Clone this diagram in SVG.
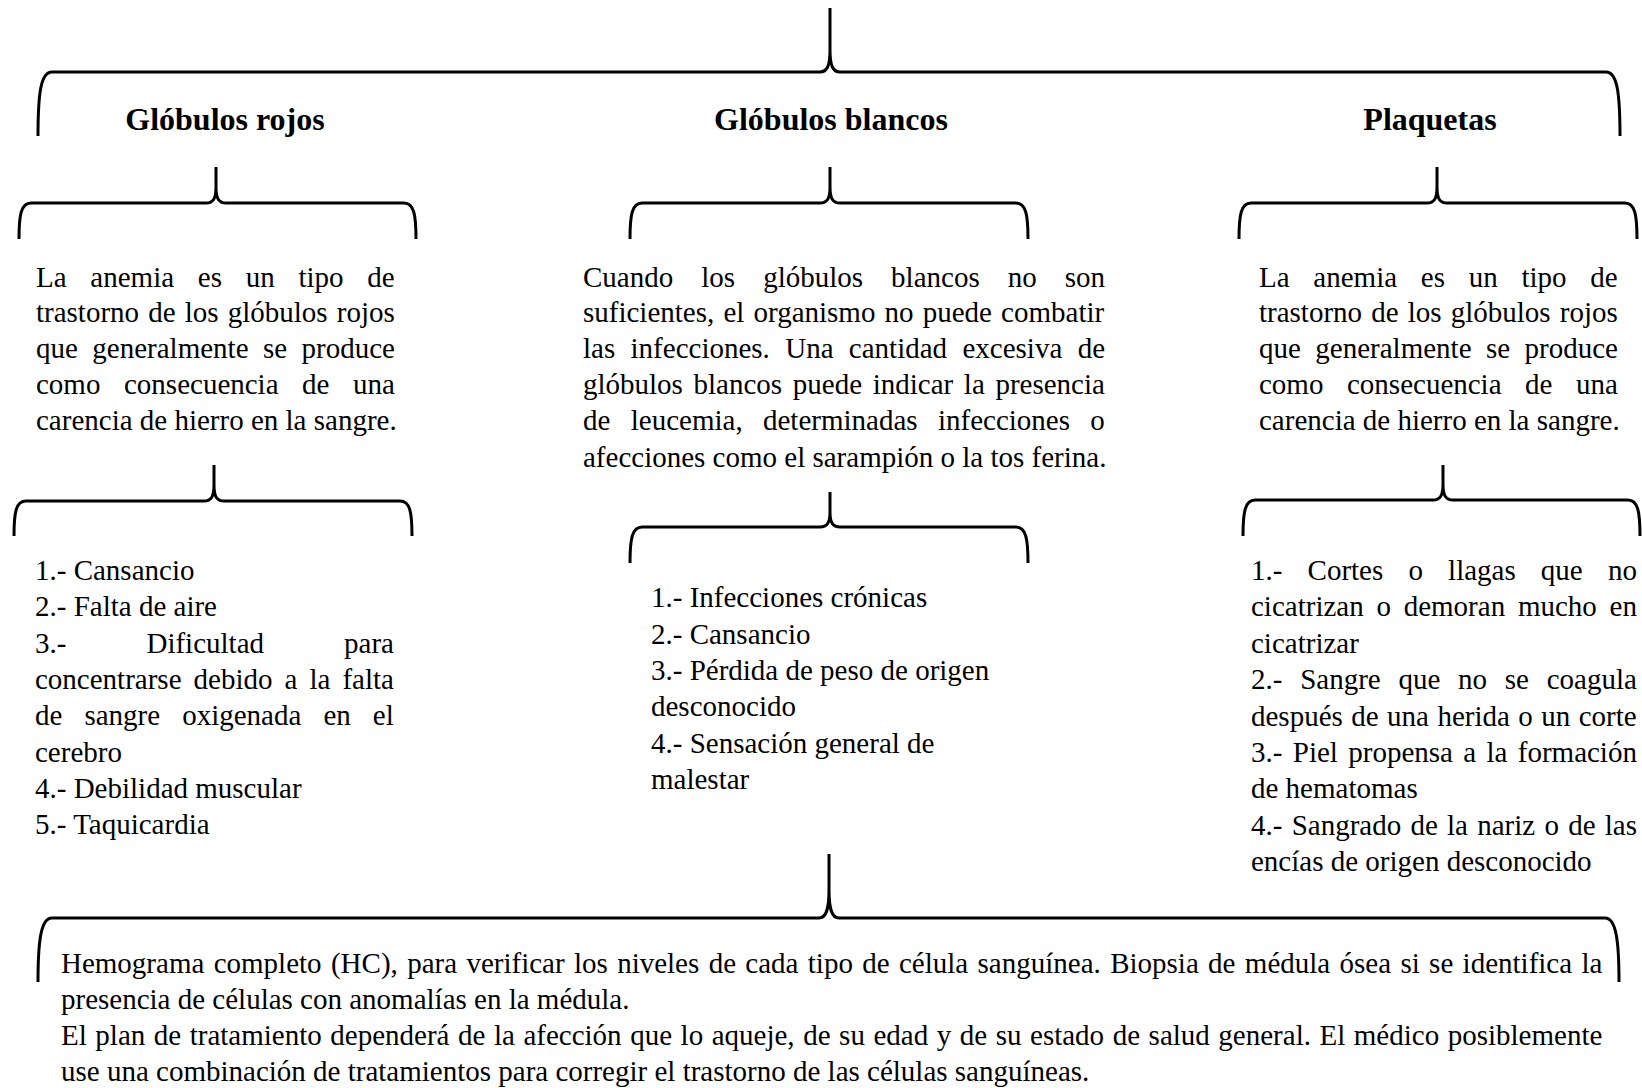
<svg xmlns="http://www.w3.org/2000/svg" width="1642" height="1088" viewBox="0 0 1642 1088">
<style>
.t{font-family:"Liberation Serif","Times New Roman",serif;font-size:29px;fill:#000}
.h{font-family:"Liberation Serif","Times New Roman",serif;font-size:32px;font-weight:bold;fill:#000;text-anchor:middle}
.b{fill:none;stroke:#000;stroke-width:3;stroke-linejoin:round}
</style>
<defs>
<clipPath id="clipR"><rect x="1200" y="540" width="442" height="341"/></clipPath>
</defs>
<rect width="1642" height="1088" fill="#fff"/>
<g id="connectors">
<path class="b" d="M38 136 C38 92 41 72 52 72 L820 72 C827 72 830 66 830 50 L830 8 M830 50 C830 66 833 72 840 72 L1606 72 C1617 72 1620 92 1620 136"/>
<path class="b" d="M19 239 C19 215 21 203 31 203 L206 203 C213 203 216 199 216 187 L216 167 M216 187 C216 199 219 203 226 203 L404 203 C414 203 416 215 416 239"/>
<path class="b" d="M630 239 C630 215 632 203 642 203 L820 203 C827 203 830 199 830 187 L830 167 M830 187 C830 199 833 203 840 203 L1016 203 C1026 203 1028 215 1028 239"/>
<path class="b" d="M1239 239 C1239 215 1241 203 1251 203 L1427 203 C1434 203 1437 199 1437 187 L1437 167 M1437 187 C1437 199 1440 203 1447 203 L1625 203 C1635 203 1637 215 1637 239"/>
<path class="b" d="M14 536 C14 512 16 501 26 501 L204 501 C211 501 214 497 214 485 L214 465 M214 485 C214 497 217 501 224 501 L400 501 C410 501 412 512 412 536"/>
<path class="b" d="M630 563 C630 539 632 527 642 527 L820 527 C827 527 830 523 830 512 L830 492 M830 512 C830 523 833 527 840 527 L1016 527 C1026 527 1028 539 1028 563"/>
<path class="b" d="M1243 536 C1243 512 1245 500 1255 500 L1433 500 C1440 500 1443 496 1443 484 L1443 465 M1443 484 C1443 496 1446 500 1453 500 L1628 500 C1638 500 1640 512 1640 536"/>
<path class="b" d="M38 982 C38 940 41 918 52 918 L819 918 C826 918 829 910 829 890 L829 854 M829 890 C829 910 832 918 839 918 L1605 918 C1616 918 1619 940 1619 982"/>
</g>
<g id="head-rojos"><text class="h" x="225" y="130">Glóbulos rojos</text></g>
<g id="head-blancos"><text class="h" x="831" y="130">Glóbulos blancos</text></g>
<g id="head-plaquetas"><text class="h" x="1430" y="130">Plaquetas</text></g>
<g id="desc-rojos">
<text class="t" x="36" y="287" word-spacing="16.5">La anemia es un tipo de</text>
<text class="t" x="36" y="322" word-spacing="1.9">trastorno de los glóbulos rojos</text>
<text class="t" x="36" y="358" word-spacing="7.2">que generalmente se produce</text>
<text class="t" x="36" y="394" word-spacing="16.3">como consecuencia de una</text>
<text class="t" x="36" y="430">carencia de hierro en la sangre.</text>
</g>
<g id="desc-blancos">
<text class="t" x="583" y="287" word-spacing="20.8">Cuando los glóbulos blancos no son</text>
<text class="t" x="583" y="322" word-spacing="1.9">suficientes, el organismo no puede combatir</text>
<text class="t" x="583" y="358" word-spacing="8.1">las infecciones. Una cantidad excesiva de</text>
<text class="t" x="583" y="394" word-spacing="3.4">glóbulos blancos puede indicar la presencia</text>
<text class="t" x="583" y="430" word-spacing="13.1">de leucemia, determinadas infecciones o</text>
<text class="t" x="583" y="467">afecciones como el sarampión o la tos ferina.</text>
</g>
<g id="desc-plaquetas">
<text class="t" x="1259" y="287" word-spacing="16.5">La anemia es un tipo de</text>
<text class="t" x="1259" y="322" word-spacing="1.9">trastorno de los glóbulos rojos</text>
<text class="t" x="1259" y="358" word-spacing="7.2">que generalmente se produce</text>
<text class="t" x="1259" y="394" word-spacing="16.3">como consecuencia de una</text>
<text class="t" x="1259" y="430">carencia de hierro en la sangre.</text>
</g>
<g id="sintomas-rojos">
<text class="t" x="35" y="580">1.- Cansancio</text>
<text class="t" x="35" y="616">2.- Falta de aire</text>
<text class="t" x="35" y="653" word-spacing="72.8">3.- Dificultad para</text>
<text class="t" x="35" y="689" word-spacing="4.8">concentrarse debido a la falta</text>
<text class="t" x="35" y="725" word-spacing="14.8">de sangre oxigenada en el</text>
<text class="t" x="35" y="762">cerebro</text>
<text class="t" x="35" y="798">4.- Debilidad muscular</text>
<text class="t" x="35" y="834">5.- Taquicardia</text>
</g>
<g id="sintomas-blancos">
<text class="t" x="651" y="607">1.- Infecciones crónicas</text>
<text class="t" x="651" y="644">2.- Cansancio</text>
<text class="t" x="651" y="680">3.- Pérdida de peso de origen</text>
<text class="t" x="651" y="716">desconocido</text>
<text class="t" x="651" y="753">4.- Sensación general de</text>
<text class="t" x="651" y="789">malestar</text>
</g>
<g id="sintomas-plaquetas" clip-path="url(#clipR)">
<text class="t" x="1251" y="580" word-spacing="17.9">1.- Cortes o llagas que no</text>
<text class="t" x="1251" y="616" word-spacing="5.5">cicatrizan o demoran mucho en</text>
<text class="t" x="1251" y="653">cicatrizar</text>
<text class="t" x="1251" y="689" word-spacing="10.5">2.- Sangre que no se coagula</text>
<text class="t" x="1251" y="726" word-spacing="1.2">después de una herida o un corte</text>
<text class="t" x="1251" y="762" word-spacing="3.1">3.- Piel propensa a la formación</text>
<text class="t" x="1251" y="798">de hematomas</text>
<text class="t" x="1251" y="835" word-spacing="2.0">4.- Sangrado de la nariz o de las</text>
<text class="t" x="1251" y="871">encías de origen desconocido</text>
</g>
<g id="diagnostico">
<text class="t" x="61" y="973" word-spacing="2.1">Hemograma completo (HC), para verificar los niveles de cada tipo de célula sanguínea. Biopsia de médula ósea si se identifica la</text>
<text class="t" x="61" y="1009">presencia de células con anomalías en la médula.</text>
<text class="t" x="61" y="1045" word-spacing="1.3">El plan de tratamiento dependerá de la afección que lo aqueje, de su edad y de su estado de salud general. El médico posiblemente</text>
<text class="t" x="61" y="1081">use una combinación de tratamientos para corregir el trastorno de las células sanguíneas.</text>
</g>
</svg>
